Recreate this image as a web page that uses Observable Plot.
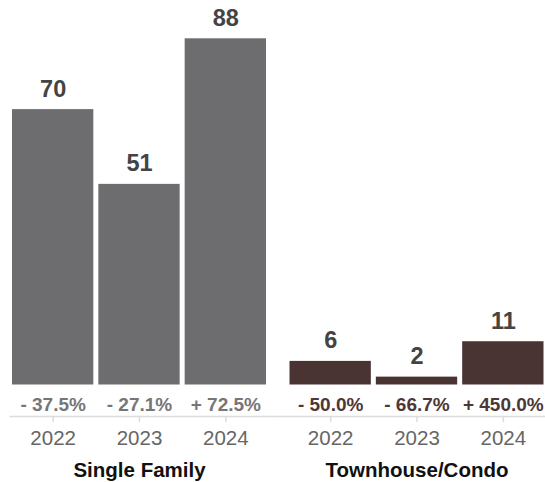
<!DOCTYPE html>
<html>
<head>
<meta charset="utf-8">
<script src="https://cdn.jsdelivr.net/npm/d3@7"></script>
<script src="https://cdn.jsdelivr.net/npm/@observablehq/plot@0.6"></script>
<style>
  html, body { margin: 0; padding: 0; background: #fff; }
  #chart svg { display: block; }
</style>
</head>
<body>
<div id="chart"></div>
<script>
// Closed sales by property type and year, with year-over-year change
const groups = ["Single Family", "Townhouse/Condo"];
const years = ["2022", "2023", "2024"];
const singleFamily = [70, 51, 88];
const townhouseCondo = [6, 2, 11];
const singleFamilyChange = [-37.5, -27.1, 72.5];
const townhouseCondoChange = [-50.0, -66.7, 450.0];

const rows = [
  ...years.map((year, i) => ({group: groups[0], year, value: singleFamily[i], change: singleFamilyChange[i]})),
  ...years.map((year, i) => ({group: groups[1], year, value: townhouseCondo[i], change: townhouseCondoChange[i]}))
];

const barColor = {"Single Family": "#6d6d6f", "Townhouse/Condo": "#4a3333"};
const changeColor = {"Single Family": "#767678", "Townhouse/Condo": "#4d3737"};

const formatChange = (v) => (v < 0 ? "- " : "+ ") + Math.abs(v).toFixed(1) + "%";

const font = "'Liberation Sans', Arial, Helvetica, sans-serif";

// bars and change labels, coloured per property type
const perGroup = (g) => [
  Plot.barY(rows, {filter: d => d.group === g, fx: "group", x: "year", y: "value", fill: barColor[g]}),
  Plot.text(rows, {filter: d => d.group === g, fx: "group", x: "year", y: 0, dy: 20,
    text: d => formatChange(d.change), fill: changeColor[g], fontSize: 19, fontWeight: "bold"})
];

const chart = Plot.plot({
  width: 545,
  height: 482,
  marginLeft: 9.5,
  marginRight: -1,
  marginTop: 38.3,
  marginBottom: 97.5,
  style: {fontFamily: font, background: "#fff"},
  fx: {domain: groups, paddingInner: 0.0667, paddingOuter: 0, round: false, axis: null},
  x: {domain: years, paddingInner: 0.058, paddingOuter: 0.029, round: false, axis: null},
  y: {domain: [0, d3.max(rows, d => d.value)], axis: null},
  marks: [
    ...perGroup(groups[0]),
    ...perGroup(groups[1]),
    // value labels above bars
    Plot.text(rows, {fx: "group", x: "year", y: "value", dy: -20.5, text: d => String(d.value),
      fill: "#444", fontSize: 23.5, fontWeight: "bold"}),
    // baseline under the change labels, continuous across both groups
    Plot.ruleY([groups[0]], {fx: d => d, y: 0, dy: 31.5, stroke: "#dcdcdc", strokeWidth: 1.5, insetRight: -10}),
    Plot.ruleY([groups[1]], {fx: d => d, y: 0, dy: 31.5, stroke: "#dcdcdc", strokeWidth: 1.5, insetLeft: -10}),
    // year ticks
    Plot.ruleX(rows, {fx: "group", x: "year", y1: 0, y2: 0, dy: 31.5, insetBottom: -6, stroke: "#dcdcdc", strokeWidth: 1.5}),
    // year labels
    Plot.text(rows, {fx: "group", x: "year", y: 0, dy: 53, text: "year",
      fill: "#666", fontSize: 20.5}),
    // property type labels
    Plot.text(groups, {fx: d => d, y: 0, dy: 85, text: d => d,
      fill: "#111", fontSize: 20.5, fontWeight: "bold"})
  ]
});

document.getElementById("chart").append(chart);
</script>
</body>
</html>
